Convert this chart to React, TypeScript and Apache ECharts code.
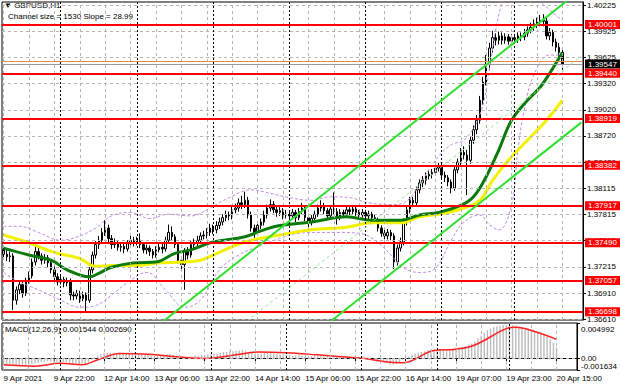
import React, { useEffect, useRef } from 'react';
import * as echarts from 'echarts';

// ---- time axis (H1 bars) ----
const dayBlocks = [
  { day: '9 Apr', from: 6, to: 23 },
  { day: '12 Apr', from: 0, to: 23 },
  { day: '13 Apr', from: 0, to: 23 },
  { day: '14 Apr', from: 0, to: 23 },
  { day: '15 Apr', from: 0, to: 23 },
  { day: '16 Apr', from: 0, to: 23 },
  { day: '19 Apr', from: 1, to: 23 },
  { day: '20 Apr', from: 0, to: 15 },
];
const firstLabel = '9 Apr 2021';
const emptySlots = 6;

// ---- prices ----
const firstOpen = 1.3741;
const closes = [
  1.3736, 1.3733, 1.3734, 1.3683, 1.3695, 1.3701, 1.3691, 1.3706, 1.3711, 1.3727,
  1.3739, 1.3734, 1.3729, 1.3732, 1.3726, 1.3718, 1.3710, 1.3704, 1.3707, 1.3703,
  1.3705, 1.3689, 1.3688, 1.3691, 1.3685, 1.3689, 1.3683, 1.3718, 1.3735, 1.3747,
  1.3752, 1.3761, 1.3766, 1.3754, 1.3747, 1.3749, 1.3744, 1.3745, 1.3742, 1.3748,
  1.3752, 1.3749, 1.3752, 1.3747, 1.3741, 1.3743, 1.3739, 1.3735, 1.3741, 1.3744,
  1.3742, 1.3752, 1.3761, 1.3756, 1.3747, 1.3729, 1.3724, 1.3739, 1.3735, 1.3747,
  1.3749, 1.3752, 1.3757, 1.3758, 1.3761, 1.3766, 1.3764, 1.3769, 1.3773, 1.3778,
  1.3781, 1.3780, 1.3787, 1.3789, 1.3795, 1.3793, 1.3798, 1.3781, 1.3766, 1.3761,
  1.3769, 1.3773, 1.3781, 1.3789, 1.3793, 1.3787, 1.3784, 1.3786, 1.3781, 1.3782,
  1.3780, 1.3784, 1.3778, 1.3785, 1.3789, 1.3778, 1.3773, 1.3777, 1.3782, 1.3789,
  1.3791, 1.3786, 1.3780, 1.3788, 1.3785, 1.3778, 1.3784, 1.3782, 1.3787, 1.3785,
  1.3788, 1.3784, 1.3781, 1.3784, 1.3780, 1.3782, 1.3778, 1.3775, 1.3766, 1.3760,
  1.3757, 1.3761, 1.3757, 1.3727, 1.3743, 1.3750, 1.3773, 1.3787, 1.3798, 1.3795,
  1.3810, 1.3818, 1.3821, 1.3826, 1.3828, 1.3830, 1.3835, 1.3837, 1.3827, 1.3824,
  1.3819, 1.3812, 1.3833, 1.3842, 1.3853, 1.3850, 1.3844, 1.3867, 1.3879, 1.3890,
  1.3913, 1.3934, 1.3954, 1.3973, 1.3985, 1.3982, 1.3987, 1.3982, 1.3986, 1.3981,
  1.3985, 1.3983, 1.3987, 1.3986, 1.3990, 1.3994, 1.3997, 1.4001, 1.4003, 1.4005,
  1.4004, 1.3987, 1.3991, 1.3980, 1.3974, 1.3968, 1.39547,
];
const highs = [
  1.3746, 1.3741, 1.3739, 1.3737, 1.3699, 1.3706, 1.3704, 1.3709, 1.3716, 1.3731,
  1.3745, 1.3743, 1.3737, 1.3736, 1.3735, 1.3729, 1.3722, 1.3714, 1.3712, 1.3710,
  1.3709, 1.3708, 1.3693, 1.3695, 1.3694, 1.3693, 1.3692, 1.3721, 1.3739, 1.3751,
  1.3757, 1.3766, 1.3775, 1.3770, 1.3758, 1.3754, 1.3752, 1.3750, 1.3749, 1.3752,
  1.3757, 1.3756, 1.3756, 1.3760, 1.3750, 1.3747, 1.3746, 1.3742, 1.3745, 1.3749,
  1.3748, 1.3756, 1.3770, 1.3768, 1.3759, 1.3750, 1.3733, 1.3743, 1.3744, 1.3751,
  1.3754, 1.3757, 1.3761, 1.3763, 1.3766, 1.3771, 1.3770, 1.3774, 1.3778, 1.3782,
  1.3786, 1.3785, 1.3791, 1.3794, 1.3800, 1.3803, 1.3808, 1.3802, 1.3785, 1.3770,
  1.3773, 1.3777, 1.3786, 1.3793, 1.3799, 1.3797, 1.3791, 1.3790, 1.3789, 1.3787,
  1.3786, 1.3788, 1.3787, 1.3789, 1.3795, 1.3792, 1.3781, 1.3781, 1.3786, 1.3793,
  1.3798, 1.3795, 1.3789, 1.3792, 1.3807, 1.3789, 1.3788, 1.3787, 1.3791, 1.3790,
  1.3792, 1.3791, 1.3787, 1.3788, 1.3787, 1.3786, 1.3785, 1.3781, 1.3778, 1.3769,
  1.3764, 1.3765, 1.3764, 1.3760, 1.3747, 1.3755, 1.3777, 1.3791, 1.3802, 1.3802,
  1.3814, 1.3822, 1.3826, 1.3830, 1.3832, 1.3834, 1.3839, 1.3841, 1.3840, 1.3831,
  1.3827, 1.3822, 1.3837, 1.3846, 1.3858, 1.3860, 1.3856, 1.3872, 1.3884, 1.3896,
  1.3918, 1.3940, 1.3965, 1.3979, 1.3993, 1.3990, 1.3992, 1.3991, 1.3990, 1.3989,
  1.3989, 1.3989, 1.3991, 1.3991, 1.3995, 1.3998, 1.4002, 1.4006, 1.4008, 1.4011,
  1.4012, 1.4008, 1.3996, 1.3994, 1.3984, 1.3979, 1.3972,
];
const lows = [
  1.3731, 1.3728, 1.3727, 1.3672, 1.3678, 1.3690, 1.3686, 1.3688, 1.3702, 1.3708,
  1.3723, 1.3730, 1.3724, 1.3725, 1.3721, 1.3714, 1.3706, 1.3700, 1.3701, 1.3698,
  1.3699, 1.3683, 1.3683, 1.3684, 1.3680, 1.3682, 1.3670, 1.3680, 1.3714, 1.3731,
  1.3742, 1.3748, 1.3757, 1.3750, 1.3742, 1.3743, 1.3740, 1.3739, 1.3737, 1.3739,
  1.3745, 1.3745, 1.3746, 1.3743, 1.3737, 1.3736, 1.3734, 1.3731, 1.3732, 1.3738,
  1.3737, 1.3739, 1.3749, 1.3752, 1.3743, 1.3725, 1.3716, 1.3695, 1.3730, 1.3732,
  1.3743, 1.3745, 1.3748, 1.3753, 1.3754, 1.3757, 1.3759, 1.3760, 1.3765, 1.3769,
  1.3774, 1.3775, 1.3776, 1.3783, 1.3785, 1.3788, 1.3789, 1.3777, 1.3762, 1.3755,
  1.3757, 1.3765, 1.3769, 1.3777, 1.3785, 1.3783, 1.3779, 1.3780, 1.3776, 1.3777,
  1.3775, 1.3776, 1.3773, 1.3775, 1.3782, 1.3774, 1.3766, 1.3769, 1.3773, 1.3779,
  1.3785, 1.3782, 1.3776, 1.3777, 1.3781, 1.3770, 1.3775, 1.3778, 1.3779, 1.3781,
  1.3782, 1.3780, 1.3777, 1.3778, 1.3776, 1.3776, 1.3774, 1.3771, 1.3762, 1.3756,
  1.3752, 1.3753, 1.3752, 1.3719, 1.3723, 1.3739, 1.3746, 1.3769, 1.3783, 1.3790,
  1.3791, 1.3806, 1.3813, 1.3816, 1.3822, 1.3823, 1.3826, 1.3831, 1.3823, 1.3819,
  1.3814, 1.3806, 1.3809, 1.3829, 1.3838, 1.3845, 1.3804, 1.3840, 1.3863, 1.3874,
  1.3886, 1.3908, 1.3930, 1.3948, 1.3968, 1.3976, 1.3977, 1.3977, 1.3978, 1.3977,
  1.3977, 1.3978, 1.3979, 1.3981, 1.3982, 1.3986, 1.3990, 1.3993, 1.3996, 1.3998,
  1.3998, 1.3983, 1.3982, 1.3975, 1.3969, 1.3963, 1.3948,
];

// ---- indicators: [bar index, value] ----
const greenMa = [
  [0, 1.3743], [8, 1.3735], [15, 1.3729], [20, 1.3718], [27, 1.3710], [30, 1.3714],
  [34, 1.3721], [41, 1.3726], [48, 1.3727], [54, 1.3737], [59, 1.3741], [66, 1.3750],
  [76, 1.3756], [82, 1.3764], [87, 1.3769], [97, 1.3773], [108, 1.3779], [116, 1.3775],
  [125, 1.3775], [131, 1.3781], [137, 1.3784], [144, 1.3792], [148, 1.3802], [152, 1.3825],
  [156, 1.3856], [160, 1.3890], [165, 1.3913], [169, 1.3928], [172, 1.3944], [176, 1.3968],
];
const yellowMa = [
  [0, 1.3758], [8, 1.3749], [16, 1.3738], [24, 1.3731], [29, 1.3722], [34, 1.3723],
  [41, 1.3723], [49, 1.3726], [57, 1.3727], [62, 1.3729], [66, 1.3735], [76, 1.3750],
  [87, 1.3758], [97, 1.3764], [108, 1.3767], [116, 1.3772], [125, 1.3772], [131, 1.3779],
  [137, 1.3782], [144, 1.3788], [150, 1.3798], [154, 1.3821], [159, 1.3844], [165, 1.3867],
  [171, 1.3890], [176, 1.3913],
];
const bandUpper = [
  [0, 1.3768], [5, 1.3768], [11, 1.3761], [18, 1.3752], [24, 1.3757], [29, 1.3766],
  [34, 1.3780], [40, 1.3784], [46, 1.3777], [52, 1.3782], [59, 1.3780], [65, 1.3789],
  [71, 1.3801], [78, 1.3810], [84, 1.3806], [90, 1.3801], [97, 1.3798], [103, 1.3802],
  [109, 1.3801], [115, 1.3795], [122, 1.3793], [126, 1.3795], [131, 1.3816], [136, 1.3844],
  [141, 1.3862], [145, 1.3867], [150, 1.3896], [153, 1.3948], [155, 1.3994], [158, 1.4040],
  [161, 1.4074], [166, 1.4063], [169, 1.4028], [172, 1.4017], [176, 1.4005],
];
const bandLower = [
  [0, 1.3715], [5, 1.3704], [11, 1.3695], [18, 1.3683], [24, 1.3675], [29, 1.3677],
  [34, 1.3689], [40, 1.3706], [45, 1.3715], [51, 1.3695], [57, 1.3675], [62, 1.3683],
  [68, 1.3718], [74, 1.3735], [81, 1.3746], [87, 1.3754], [93, 1.3760], [100, 1.3761],
  [106, 1.3761], [112, 1.3760], [117, 1.3752], [122, 1.3735], [126, 1.3720], [131, 1.3715],
  [136, 1.3720], [141, 1.3752], [145, 1.3773], [150, 1.3781], [153, 1.3770], [156, 1.3764],
  [160, 1.3793], [162, 1.3856], [164, 1.3902], [167, 1.3942], [172, 1.3965], [176, 1.3965],
];

// ---- channel (Channel size = 1530, Slope = 28.99 points/bar) ----
const channelUpper = [[50, 1.36579], [182, 1.40406]];
const channelMiddle = [[50, 1.35814], [182, 1.39641]];
const channelLower = [[50, 1.35049], [182, 1.38876]];

// ---- horizontal levels ----
const levels = [1.40001, 1.3944, 1.38919, 1.38382, 1.37917, 1.3749, 1.37057, 1.36698];
const bidPrice = 1.39547;
const askPrice = 1.3958;
const priceTicks = [1.40225, 1.39925, 1.39625, 1.3932, 1.3902, 1.3872, 1.3842, 1.38115, 1.37815, 1.37515, 1.37215, 1.3691, 1.3661];
const priceMin = 1.36603;
const priceMax = 1.4026;

// ---- MACD(12,26,9) ----
const macdMain = [
  -0.0008, -0.0008, -0.0008, -0.0009, -0.0010, -0.0010, -0.0010, -0.0009, -0.0009,
  -0.0008, -0.0007, -0.0006, -0.0005, -0.0005, -0.0004, -0.0004, -0.0005, -0.0005,
  -0.0005, -0.0005, -0.0005, -0.0006, -0.0007, -0.0007, -0.0007, -0.0007, -0.0008, -0.0005,
  -0.0002, 0.0001, 0.0004, 0.0006, 0.0008, 0.0008, 0.0008, 0.0008,
  0.0008, 0.0008, 0.0007, 0.0007, 0.0007, 0.0007, 0.0007, 0.0006, 0.0006, 0.0005,
  0.0005, 0.0004, 0.0004, 0.0004, 0.0004, 0.0005, 0.0006, 0.0006, 0.0005, 0.0003, 0.0002,
  0.0002, 0.0002, 0.0003, 0.0003, 0.0004, 0.0004, 0.0005, 0.0005, 0.0006,
  0.0006, 0.0007, 0.0007, 0.0008, 0.0009, 0.0009, 0.0010, 0.0010, 0.0011, 0.0011, 0.0012,
  0.0011, 0.0009, 0.0008, 0.0007, 0.0007, 0.0007, 0.0008, 0.0008, 0.0008, 0.0007, 0.0007, 0.0006, 0.0006,
  0.0005, 0.0005, 0.0004, 0.0004, 0.0005, 0.0004, 0.0003, 0.0003, 0.0003, 0.0004, 0.0004, 0.0004,
  0.0003, 0.0003, 0.0003, 0.0003, 0.0003, 0.0002, 0.0002, 0.0002, 0.0002, 0.0002, 0.0002, 0.0002,
  0.0002, 0.0001, 0.0001, 0.0000, -0.0002, -0.0004, -0.0005, -0.0005, -0.0006, -0.0009, -0.0009, -0.0008,
  -0.0005, -0.0002, 0.0001, 0.0003, 0.0005, 0.0007, 0.0008, 0.0009, 0.0010, 0.0011, 0.0012, 0.0013,
  0.0013, 0.0013, 0.0013, 0.0012, 0.0013, 0.0014, 0.0015, 0.0015, 0.0015, 0.0017, 0.0019, 0.0021,
  0.0024, 0.0028, 0.0032, 0.0036, 0.0040, 0.0042, 0.0044, 0.0045, 0.0046, 0.0047, 0.0047,
  0.0047, 0.0047, 0.0046, 0.0045, 0.0044, 0.0043, 0.0042, 0.0041, 0.0039, 0.0038, 0.0036, 0.0034,
  0.0031, 0.0027, 0.0022, 0.001544,
];
const macdSignal = [
  [0, -0.0009], [10, -0.0011], [18, -0.0007], [25, -0.0009], [30, -0.0002], [37, 0.0007],
  [46, 0.0006], [56, 0.0002], [64, 0.0], [74, 0.0005], [81, 0.0009], [90, 0.0008],
  [100, 0.0005], [109, 0.0002], [115, 0.0], [122, -0.0005], [127, -0.0006], [137, 0.0011],
  [144, 0.0013], [150, 0.0019], [160, 0.0042], [163, 0.0044], [169, 0.0038], [176, 0.00269],
];
const macdTicks = [-0.001634, 0, 0.004992];
const macdTickLabels = ['-0.001634', '0.00', '0.004992'];
const macdMin = -0.001634;
const macdMax = 0.004992;

const FONT = 'Liberation Sans';

export default function App() {
  const ref = useRef<HTMLDivElement>(null);

  useEffect(() => {
    if (!ref.current) return;
    const chart = echarts.init(ref.current, undefined, { renderer: 'svg' });

    const categories: string[] = [];
    const dayStarts: number[] = [];
    dayBlocks.forEach((b, k) => {
      if (k > 0) dayStarts.push(categories.length);
      for (let h = b.from; h <= b.to; h++) {
        categories.push(`${b.day} ${String(h).padStart(2, '0')}:00`);
      }
    });
    const nReal = categories.length;
    for (let k = 0; k < emptySlots; k++) categories.push(`pad${k}`);

    const gridCols: number[] = [];
    for (let i = 0; i < categories.length; i += 8) gridCols.push(i);

    const candleData = closes.map((c, i) => {
      const o = i === 0 ? firstOpen : closes[i - 1];
      return [o, c, lows[i], highs[i]];
    });

    const gridStyle = { color: '#b4b4b4', type: [3, 3], width: 1 };
    const sepStyle = { color: '#000000', type: [2, 2], width: 1 };

    const labelShown = (i: number) => i % 16 === 0 && i < nReal;

    const option: any = {
      animation: false,
      backgroundColor: '#ffffff',
      textStyle: { fontFamily: FONT },
      grid: [
        { left: 2, right: 37, top: 2, height: 318, show: true, borderColor: '#000', borderWidth: 1 },
        { left: 2, right: 37, top: 323, height: 47, show: true, borderColor: '#000', borderWidth: 1 },
      ],
      xAxis: [
        {
          type: 'category', gridIndex: 0, data: categories, boundaryGap: true,
          axisLabel: { show: false }, axisTick: { show: false }, axisLine: { show: false }, splitLine: { show: false },
        },
        {
          type: 'category', gridIndex: 1, data: categories, boundaryGap: true,
          axisLine: { show: true, lineStyle: { color: '#000' } },
          axisTick: { show: true, alignWithLabel: true, interval: (i: number) => labelShown(i), length: 3, lineStyle: { color: '#000' } },
          axisLabel: {
            show: true, interval: (i: number) => labelShown(i), align: 'left', fontSize: 8, color: '#000', margin: 4,
            fontFamily: FONT,
            formatter: (v: string) => (v === categories[0] ? firstLabel : v),
          },
          splitLine: { show: false },
        },
      ],
      yAxis: [
        {
          type: 'value', gridIndex: 0, position: 'right', min: priceMin, max: priceMax,
          axisLine: { show: true, lineStyle: { color: '#000' } },
          axisTick: { show: true, customValues: priceTicks, length: 3, lineStyle: { color: '#000' } },
          axisLabel: { customValues: priceTicks, formatter: (v: number) => v.toFixed(5), fontSize: 8, color: '#000', margin: 4, fontFamily: FONT },
          splitLine: { show: false },
        },
        {
          type: 'value', gridIndex: 1, position: 'right', min: macdMin, max: macdMax,
          axisLine: { show: true, lineStyle: { color: '#000' } },
          axisTick: { show: true, customValues: macdTicks, length: 3, lineStyle: { color: '#000' } },
          axisLabel: {
            customValues: macdTicks, fontSize: 8, color: '#000', margin: 4, fontFamily: FONT,
            formatter: (v: number) => {
              const k = macdTicks.indexOf(v);
              const t = macdTickLabels[k] ?? String(v);
              if (k === 2) return `{t|${t}}`;
              if (k === 0) return `{b|${t}}`;
              return t;
            },
            rich: {
              t: { padding: [12, 0, 0, 0], fontSize: 8, color: '#000', fontFamily: FONT },
              b: { padding: [0, 0, 7, 0], fontSize: 8, color: '#000', fontFamily: FONT },
            },
          },
          splitLine: { show: false },
        },
      ],
      graphic: [
        { type: 'text', left: 4, top: 1, style: { text: '▼ GBPUSD,H1', fontSize: 8, fill: '#000', fontFamily: FONT } },
        { type: 'text', left: 8, top: 12, style: { text: 'Channel size = 1530 Slope = 28.99', fontSize: 8, fill: '#000', fontFamily: FONT } },
        { type: 'text', left: 5, top: 325, style: { text: 'MACD(12,26,9) 0.001544 0.002690', fontSize: 8, fill: '#000', fontFamily: FONT } },
      ],
      series: [
        // grid lines, main panel
        {
          type: 'line', xAxisIndex: 0, yAxisIndex: 0, data: [], z: 1, silent: true,
          markLine: {
            silent: true, symbol: ['none', 'none'], label: { show: false }, animation: false, precision: 6,
            data: [
              ...priceTicks.map((v) => ({ yAxis: v, lineStyle: gridStyle })),
              ...gridCols.map((i) => ({ xAxis: i, lineStyle: gridStyle })),
              ...dayStarts.map((i) => ({ xAxis: i, lineStyle: sepStyle })),
            ],
          },
        },
        // grid lines, MACD panel
        {
          type: 'line', xAxisIndex: 1, yAxisIndex: 1, data: [], z: 1, silent: true,
          markLine: {
            silent: true, symbol: ['none', 'none'], label: { show: false }, animation: false, precision: 8,
            data: [
              { yAxis: 0, lineStyle: gridStyle },
              ...gridCols.map((i) => ({ xAxis: i, lineStyle: gridStyle })),
              ...dayStarts.map((i) => ({ xAxis: i, lineStyle: sepStyle })),
            ],
          },
        },
        {
          type: 'candlestick', xAxisIndex: 0, yAxisIndex: 0, data: candleData, barWidth: 2, z: 3,
          itemStyle: { color: '#ffffff', color0: '#000000', borderColor: '#000000', borderColor0: '#000000', borderWidth: 1 },
        },
        {
          type: 'line', xAxisIndex: 0, yAxisIndex: 0, data: bandUpper, smooth: 0.4, showSymbol: false, z: 4,
          lineStyle: { color: '#c48ae6', width: 1, type: [3, 2] },
        },
        {
          type: 'line', xAxisIndex: 0, yAxisIndex: 0, data: bandLower, smooth: 0.4, showSymbol: false, z: 4,
          lineStyle: { color: '#c48ae6', width: 1, type: [3, 2] },
        },
        {
          type: 'line', xAxisIndex: 0, yAxisIndex: 0, data: yellowMa, smooth: 0.4, showSymbol: false, z: 4,
          lineStyle: { color: '#f2f200', width: 3 },
        },
        {
          type: 'line', xAxisIndex: 0, yAxisIndex: 0, data: greenMa, smooth: 0.4, showSymbol: false, z: 4,
          lineStyle: { color: '#0a7a0a', width: 3 },
        },
        {
          type: 'line', xAxisIndex: 0, yAxisIndex: 0, data: channelUpper, showSymbol: false, z: 5,
          lineStyle: { color: '#2fe02f', width: 2 },
        },
        {
          type: 'line', xAxisIndex: 0, yAxisIndex: 0, data: channelLower, showSymbol: false, z: 5,
          lineStyle: { color: '#2fe02f', width: 2 },
        },
        {
          type: 'line', xAxisIndex: 0, yAxisIndex: 0, data: channelMiddle, showSymbol: false, z: 5,
          lineStyle: { color: '#8fe88f', width: 1, type: [3, 3] },
        },
        // levels + price labels
        {
          type: 'line', xAxisIndex: 0, yAxisIndex: 0, data: [], z: 6, silent: true,
          markLine: {
            silent: true, symbol: ['none', 'none'], animation: false, precision: 5,
            label: {
              show: true, position: 'end', distance: 2, fontSize: 8, fontFamily: FONT, color: '#fff',
              backgroundColor: '#ff0000', padding: [1, 4, 0, 3],
              formatter: (p: any) => Number(p.value).toFixed(5),
            },
            data: [
              { yAxis: askPrice, lineStyle: { color: '#e08a50', width: 1, type: 'solid' }, label: { show: false } },
              { yAxis: bidPrice, lineStyle: { color: '#9a9a9a', width: 1, type: 'solid' }, label: { backgroundColor: '#000000' } },
              ...levels.map((v) => ({ yAxis: v, lineStyle: { color: '#ff0000', width: 2, type: 'solid' } })),
            ],
          },
        },
        {
          type: 'bar', xAxisIndex: 1, yAxisIndex: 1, data: macdMain, barWidth: 1.4, z: 3,
          itemStyle: { color: '#bcbcbc' },
        },
        {
          type: 'line', xAxisIndex: 1, yAxisIndex: 1, data: macdSignal, smooth: 0.4, showSymbol: false, z: 4,
          lineStyle: { color: '#ff2020', width: 1.5 },
        },
      ],
    };

    chart.setOption(option);
    return () => chart.dispose();
  }, []);

  return <div ref={ref} style={{ position: 'absolute', left: 0, top: 0, width: 620, height: 388 }} />;
}
